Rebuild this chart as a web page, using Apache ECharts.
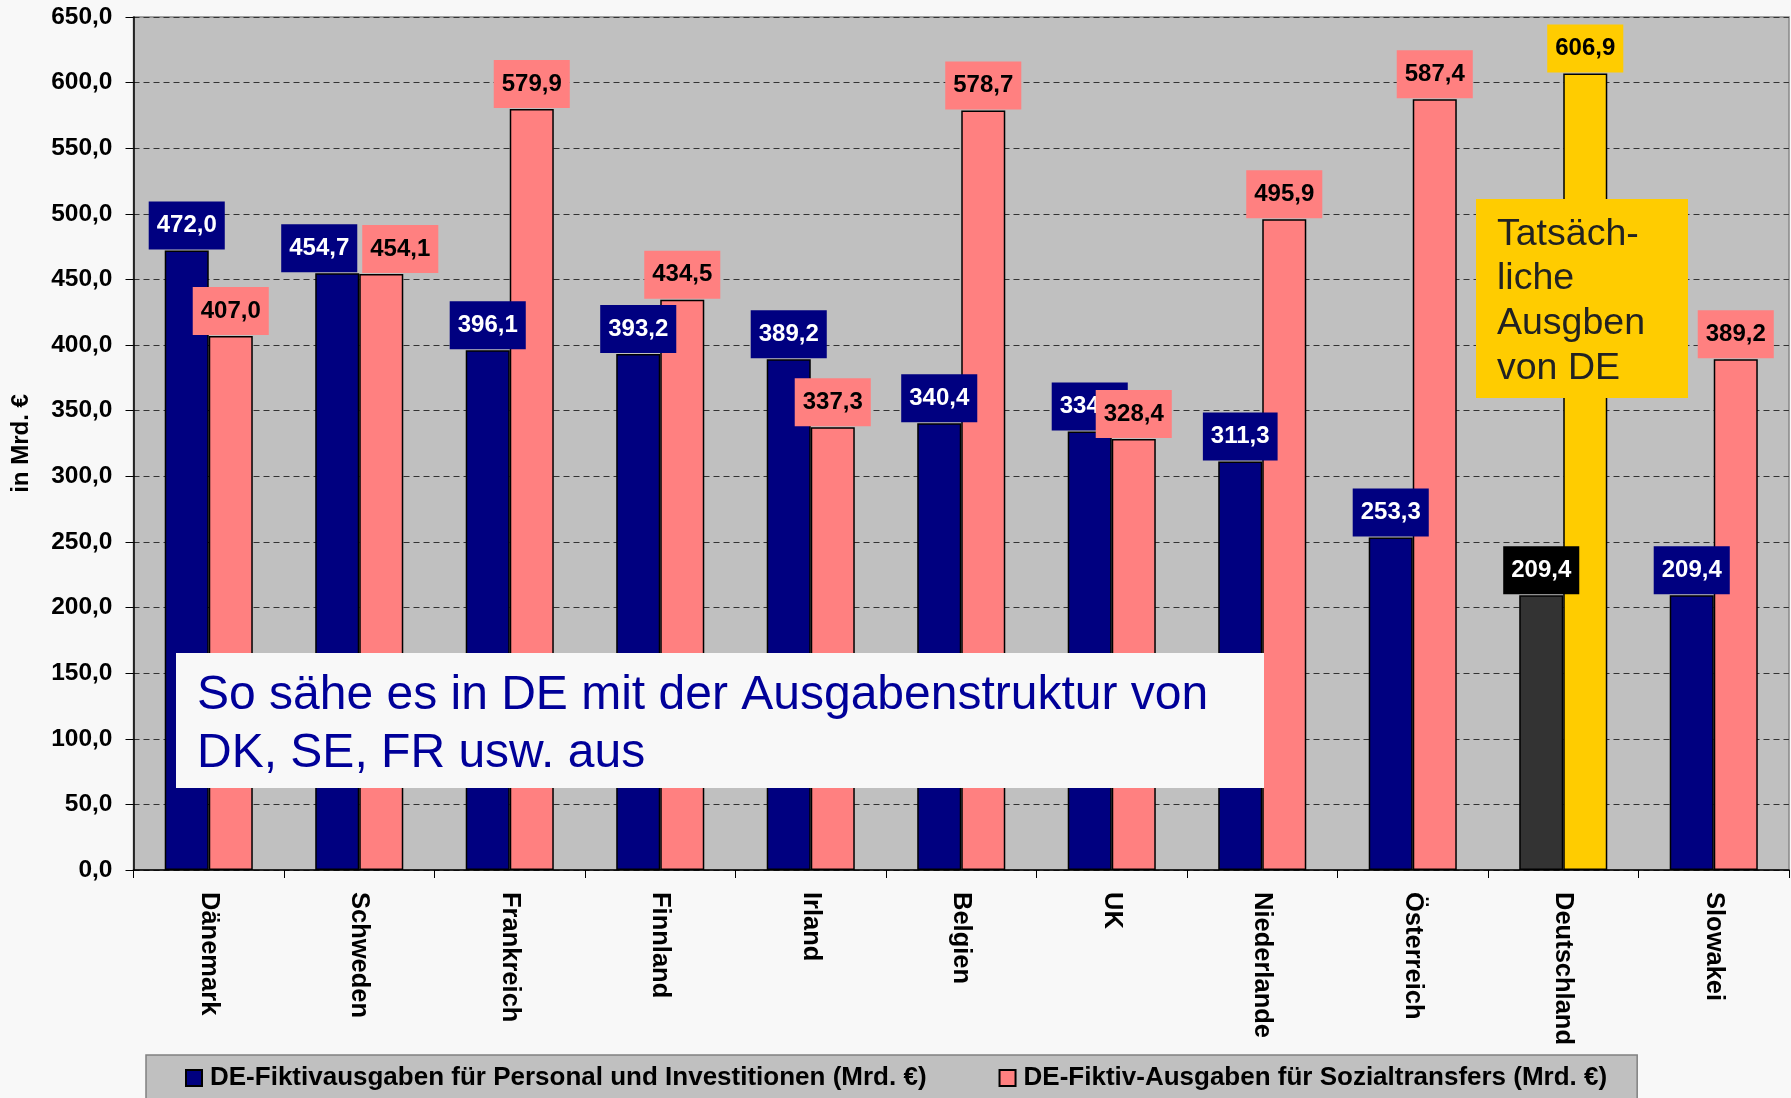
<!DOCTYPE html>
<html>
<head>
<meta charset="utf-8">
<script src="https://cdn.jsdelivr.net/npm/echarts@6/dist/echarts.min.js"></script>
<style>
  html, body { margin: 0; padding: 0; background: #F8F8F8; }
  #chart { width: 1791px; height: 1098px; }
</style>
</head>
<body>
<div id="chart"></div>
<script>
// Länder
const categories = ['Dänemark', 'Schweden', 'Frankreich', 'Finnland', 'Irland', 'Belgien', 'UK', 'Niederlande', 'Österreich', 'Deutschland', 'Slowakei'];
// DE-Fiktivausgaben für Personal und Investitionen (Mrd. €)
const personalValues = [472.0, 454.7, 396.1, 393.2, 389.2, 340.4, 334.1, 311.3, 253.3, 209.4, 209.4];
// DE-Fiktiv-Ausgaben für Sozialtransfers (Mrd. €)
const sozialValues = [407.0, 454.1, 579.9, 434.5, 337.3, 578.7, 328.4, 495.9, 587.4, 606.9, 389.2];
const seriesNames = ['DE-Fiktivausgaben für Personal und Investitionen (Mrd. €)', 'DE-Fiktiv-Ausgaben für Sozialtransfers (Mrd. €)'];
const yMin = 0, yMax = 650, yStep = 50;
const actualCountry = 'Deutschland';
const shiftedLabelCountry = 'Schweden'; // Beschriftungen dort auseinandergeschoben

const FONT = '"Liberation Sans", Arial, sans-serif';
const fmt = function (v) { return Number(v).toFixed(1).replace('.', ','); };

let myChart = echarts.init(document.getElementById('chart'));

// Deutschland = tatsächliche Werte, andere Farben
let personalData = personalValues.map(function (v, i) {
  if (categories[i] === actualCountry) {
    return { value: v, itemStyle: { color: '#333333' }, label: { backgroundColor: '#000000' } };
  }
  if (categories[i] === shiftedLabelCountry) {
    return { value: v, label: { offset: [-18, 0] } };
  }
  return v;
});
let sozialData = sozialValues.map(function (v, i) {
  if (categories[i] === actualCountry) {
    return { value: v, itemStyle: { color: '#FFCC00' }, label: { backgroundColor: '#FFCC00' } };
  }
  if (categories[i] === shiftedLabelCountry) {
    return { value: v, label: { offset: [19, 0] } };
  }
  return v;
});

let labelBase = {
  show: true,
  position: 'top',
  distance: 1,
  fontFamily: FONT,
  fontSize: 24,
  fontWeight: 'bold',
  lineHeight: 24,
  padding: [12, 8, 12, 8],
  formatter: function (p) { return fmt(p.value); }
};

myChart.setOption({
  backgroundColor: '#F8F8F8',
  animation: false,
  grid: {
    left: 133.5,
    right: 2,
    top: 17,
    bottom: 228,
    show: true,
    backgroundColor: '#C0C0C0',
    borderColor: '#888888',
    borderWidth: 1.5
  },
  legend: {
    left: 146,
    top: 1055,
    orient: 'horizontal',
    icon: 'rect',
    itemWidth: 16,
    itemHeight: 16,
    itemGap: 72,
    padding: [10, 30, 10, 39],
    backgroundColor: '#C0C0C0',
    borderColor: '#808080',
    borderWidth: 1.5,
    textStyle: {
      fontFamily: FONT,
      fontSize: 26,
      fontWeight: 'bold',
      color: '#000000',
      padding: [0, 0, 0, 3]
    },
    data: seriesNames
  },
  xAxis: {
    type: 'category',
    data: categories,
    boundaryGap: true,
    axisLine: { show: true, lineStyle: { color: '#000000', width: 1.5 } },
    axisTick: { show: true, length: 8, lineStyle: { color: '#000000', width: 1 } },
    axisLabel: {
      interval: 0,
      rotate: -90,
      margin: 22,
      fontFamily: FONT,
      fontSize: 25.5,
      fontWeight: 'bold',
      color: '#000000'
    },
    splitLine: { show: false }
  },
  yAxis: {
    type: 'value',
    min: yMin,
    max: yMax,
    interval: yStep,
    name: 'in Mrd. €',
    nameLocation: 'middle',
    nameRotate: 90,
    nameGap: 100,
    nameTextStyle: {
      fontFamily: FONT,
      fontSize: 24,
      fontWeight: 'bold',
      color: '#000000'
    },
    axisLine: { show: true, lineStyle: { color: '#000000', width: 1.5 } },
    axisTick: { show: true, length: 8, lineStyle: { color: '#000000', width: 1 } },
    axisLabel: {
      margin: 21,
      fontFamily: FONT,
      fontSize: 24.5,
      fontWeight: 'bold',
      color: '#000000',
      formatter: fmt
    },
    splitLine: {
      show: true,
      lineStyle: { type: [6, 4], color: '#333333', width: 1 }
    }
  },
  series: [
    {
      name: seriesNames[0],
      type: 'bar',
      barGap: '0%',
      barCategoryGap: '41.5%',
      data: personalData,
      itemStyle: { color: '#000080', borderColor: '#000000', borderWidth: 1.5 },
      label: Object.assign({}, labelBase, { color: '#FFFFFF', backgroundColor: '#000080' })
    },
    {
      name: seriesNames[1],
      type: 'bar',
      barGap: '0%',
      barCategoryGap: '41.5%',
      data: sozialData,
      itemStyle: { color: '#FF8080', borderColor: '#000000', borderWidth: 1.5 },
      label: Object.assign({}, labelBase, { color: '#000000', backgroundColor: '#FF8080' })
    }
  ],
  graphic: [
    {
      type: 'rect',
      z: 100,
      shape: { x: 176, y: 653, width: 1088, height: 135 },
      style: { fill: '#F8F8F8' }
    },
    {
      type: 'text',
      z: 101,
      x: 197,
      y: 667,
      style: {
        text: 'So sähe es in DE mit der Ausgabenstruktur von\nDK, SE, FR usw. aus',
        font: '48px ' + FONT,
        lineHeight: 58,
        fill: '#000099'
      }
    },
    {
      type: 'rect',
      z: 100,
      shape: { x: 1476, y: 199, width: 212, height: 199 },
      style: { fill: '#FFCC00' }
    },
    {
      type: 'text',
      z: 101,
      x: 1497,
      y: 212,
      style: {
        text: 'Tatsäch-\nliche\nAusgben\nvon DE',
        font: '37.5px ' + FONT,
        lineHeight: 44.7,
        fill: '#222222'
      }
    }
  ]
});
</script>
</body>
</html>
